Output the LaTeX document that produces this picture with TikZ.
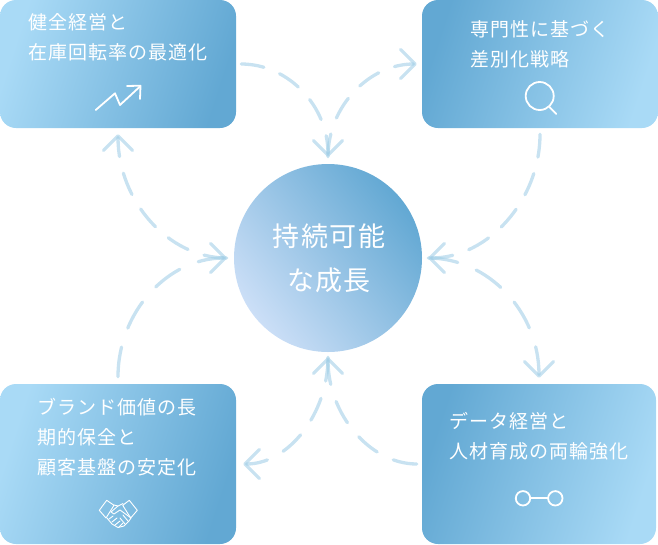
\documentclass[tikz,border=0pt]{standalone}
\usepackage{fontspec}
\setmainfont{Noto Sans CJK JP}[LetterSpace=5]
\usetikzlibrary{arrows.meta,shadings}
\definecolor{boxlight}{HTML}{A9DAF6}
\definecolor{boxdark}{HTML}{62A8D3}
\definecolor{hublight}{HTML}{CCDFF7}
\definecolor{flowc}{HTML}{9BCBE5}
\tikzset{
  panel/.style={rectangle,rounded corners=16pt,inner sep=0pt,minimum height=#1},
  lightfirst/.style={top color=boxlight,bottom color=boxdark,shading angle=72},
  darkfirst/.style={top color=boxdark,bottom color=boxlight,shading angle=72},
  hubdisc/.style={circle,inner sep=0pt,minimum size=188pt,top color=boxdark,bottom color=hublight,shading angle=-52},
  lbl/.style={text=white,align=left,anchor=west,inner sep=0pt,font=\fontsize{19}{30}\selectfont},
  hublbl/.style={text=white,align=center,inner sep=0pt,font=\fontsize{27}{44}\selectfont},
  flow/.style={draw=flowc,draw opacity=.55,line width=3.3pt,line cap=round,dash pattern=on 23pt off 17pt,
    -{Straight Barb[length=14.5pt,width=29pt,round]}},
  flow long/.style={flow,dash pattern=on 30pt off 20pt},
  flow mid/.style={flow,dash pattern=on 24pt off 18pt},
  icon/.style={draw=white,line width=1.8pt,line cap=round,line join=round},
  thin icon/.style={draw=white,line width=.9pt,line cap=round,line join=round}
}
\begin{document}
\begin{tikzpicture}[x=1pt,y=-1pt]
\useasboundingbox (0,0) rectangle (658,544);
\node[panel=128pt,minimum width=236pt,lightfirst] (tl) at (118,64) {};
\node[panel=128pt,minimum width=236pt,darkfirst] (tr) at (540,64) {};
\node[panel=160pt,minimum width=236pt,lightfirst] (bl) at (118,464) {};
\node[panel=160pt,minimum width=234pt,darkfirst] (br) at (539,464) {};
\node[hubdisc] (hub) at (328,258) {};
\node[hublbl] (hubt) at (329,258) {持続可能\\な成長};
\node[lbl] (tlt) at (28.5,37.7) {健全経営と\\在庫回転率の最適化};
\node[lbl] (trt) at (470.5,44) {専門性に基づく\\差別化戦略};
\node[lbl] (blt) at (37.5,437.5) {ブランド価値の長\\期的保全と\\顧客基盤の安定化};
\node[lbl] (brt) at (449.5,436.5) {データ経営と\\人材育成の両輪強化};
% connectors
\draw[flow,shorten <=5pt,shorten >=7pt] (tl.east) .. controls +(52,0) and +(0,-58) .. (hub.north);
\draw[flow,shorten <=7pt,shorten >=5pt] (hub.north) .. controls +(0,-58) and +(-52,0) .. (tr.west);
\draw[flow,shorten <=6pt,shorten >=6pt] (tr.south) .. controls +(0,72) and +(66,0) .. (hub.east);
\draw[flow long,shorten <=6pt,shorten >=6pt] (hub.east) .. controls +(66,0) and +(0,-72) .. (br.north);
\draw[flow mid,shorten <=5pt,shorten >=5pt] (br.west) .. controls +(-52,0) and +(0,62) .. (hub.south);
\draw[flow mid,shorten <=5pt,shorten >=7pt] (hub.south) .. controls +(0,62) and +(52,0) .. (bl.east);
\draw[flow long,shorten <=7pt,shorten >=7pt] (bl.north) .. controls +(0,-72) and +(-66,0) .. (hub.west);
\draw[flow,shorten <=7pt,shorten >=6pt] (hub.west) .. controls +(-66,0) and +(0,72) .. (tl.south);
% icons
\draw[icon] (95.7,110) -- (115,93.3) -- (120,105) -- (140,86.5);
\draw[icon] (127,86) -- (140.5,85.7) -- (140,99);
\draw[icon] (539.7,96) circle (14);
\draw[icon] (549.7,107.3) -- (556.3,114);
\draw[icon] (523,498.3) circle (7.2);
\draw[icon] (555.3,498.3) circle (7.2);
\draw[icon] (530.2,498.3) -- (548.1,498.3);
\draw[thin icon] (106.7,500.3) -- (99.3,510.3) -- (106,518) -- (114,505.3) -- cycle;
\draw[thin icon] (129.3,500.3) -- (137.3,510.3) -- (130.7,518) -- (122.7,505.3) -- cycle;
\draw[thin icon] (114,505) -- (118,506) -- (123,503.5);
\draw[thin icon] (118,506) -- (111,512) -- (114,514) -- (120,510) -- (131,518) -- (129,521) -- (124,526) -- (118,527.5) -- (112,524) -- (107,518);
\draw[thin icon] (109,519) -- (113,516) (112,522) -- (117,518) (115,525) -- (120,521) (119,527) -- (123,523);
\draw[thin icon] (123,515) -- (128,521) (120,518) -- (125,524);
\end{tikzpicture}
\end{document}
